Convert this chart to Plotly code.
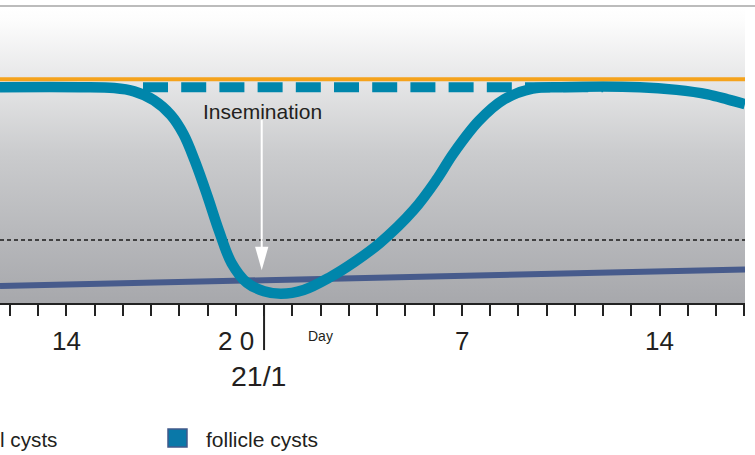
import plotly.graph_objects as go

# ---- data ----
x_range = [-9.345, 17.02]
tick_days = list(range(-9, 18))
label_days = [-7, -1, 7, 14]
label_text = ["14", "2 0", "7", "14"]

follicle_x = [-9.345, -6.5, -5.3, -4.6, -3.9, -3.3, -2.85, -2.45, -2.0, -1.6, -1.15, -0.6,
              0.0, 0.6, 1.4, 2.33, 3.2, 4.1, 5.3, 6.1, 6.7, 7.6, 8.5, 9.5, 10.5, 13.3,
              14.6, 15.7, 16.4, 17.02]
follicle_y = [72.9, 72.9, 72.6, 71.5, 68.5, 63.5, 57.0, 48.0, 36.0, 24.5, 13.5, 6.8,
              4.0, 3.1, 4.4, 8.7, 13.9, 20.3, 31.5, 41.6, 50.5, 61.5, 68.8, 72.4, 72.9, 72.9,
              72.0, 70.5, 68.8, 67.2]

luteal_x = [-9.345, 17.02]
luteal_y = [5.74, 11.3]

orange_level = 75.6
plateau_level = 72.9
dashed_start = -4.284
threshold_level = 21.3
insemination_day = -0.083

FONT = "Liberation Sans, Arial, sans-serif"
TXT = "#231f20"
TEAL = "#0086ab"

fig = go.Figure()

# gradient background
fig.add_trace(go.Scatter(
    x=[x_range[0], x_range[1], x_range[1], x_range[0], x_range[0]],
    y=[0, 0, 100, 100, 0], mode="lines", fill="toself",
    line=dict(width=0),
    fillgradient=dict(type="vertical", start=0, stop=100,
                      colorscale=[[0, "#a7a8ac"], [0.5, "#cacbcd"], [0.95, "#fcfcfc"], [1, "#ffffff"]]),
    hoverinfo="skip", showlegend=False))

# dotted threshold
fig.add_trace(go.Scatter(x=x_range, y=[threshold_level] * 2, mode="lines",
                         line=dict(color="#1a1a1a", width=1.6, dash="4px,3px"),
                         hoverinfo="skip", showlegend=False))

# luteal line
fig.add_trace(go.Scatter(x=luteal_x, y=luteal_y, mode="lines",
                         line=dict(color="#475b8c", width=6),
                         hoverinfo="skip", showlegend=False))

# dashed plateau
fig.add_trace(go.Scatter(x=[dashed_start, 12], y=[plateau_level] * 2, mode="lines",
                         line=dict(color=TEAL, width=10, dash="25px,13.2px"),
                         hoverinfo="skip", showlegend=False))

# follicle curve
fig.add_trace(go.Scatter(x=follicle_x, y=follicle_y, mode="lines",
                         line=dict(color=TEAL, width=10.5, shape="spline", smoothing=1.0),
                         hoverinfo="skip", showlegend=False))

# orange line
fig.add_trace(go.Scatter(x=x_range, y=[orange_level] * 2, mode="lines",
                         line=dict(color="#f5a31c", width=4),
                         hoverinfo="skip", showlegend=False))

shapes = [
    # top grey rule
    dict(type="line", xref="paper", yref="paper", x0=0, x1=1.02, y0=1.0034, y1=1.0034,
         line=dict(color="#a6a6a6", width=1.5)),
    # major tick at 21/1
    dict(type="line", xref="x", yref="paper", x0=0, x1=0, y0=0, y1=-0.159,
         line=dict(color="#222222", width=2)),
    # arrow shaft
    dict(type="line", xref="x", yref="y", x0=insemination_day, x1=insemination_day, y0=61.8, y1=18.0,
         line=dict(color="white", width=2), layer="above"),
    # arrow head
    dict(type="path", xref="x", yref="y",
         path=f"M {insemination_day-0.235},19.0 L {insemination_day+0.235},19.0 L {insemination_day},11.1 Z",
         fillcolor="white", line=dict(width=0), layer="above"),
    # legend square
    dict(type="rect", xref="paper", yref="paper", x0=0.2255, x1=0.251, y0=-0.4865, y1=-0.4257,
         fillcolor="#0a78a8", line=dict(color="#41598a", width=1.5)),
]

annotations = [
    dict(x=-0.05, y=0.6486, xref="x", yref="paper", text="Insemination", showarrow=False,
         font=dict(family=FONT, size=21, color=TXT), xanchor="center", yanchor="middle"),
    dict(x=-0.18, y=-0.2456, xref="x", yref="paper", text="21/1", showarrow=False,
         font=dict(family=FONT, size=28.5, color=TXT), xanchor="center", yanchor="middle"),
    dict(x=2, y=-0.11, xref="x", yref="paper", text="Day", showarrow=False,
         font=dict(family=FONT, size=14, color=TXT), xanchor="center", yanchor="middle"),
    dict(x=0.2735, y=-0.4628, xref="paper", yref="paper", text="follicle cysts", showarrow=False,
         font=dict(family=FONT, size=21, color=TXT), xanchor="left", yanchor="middle"),
    dict(x=0.0792, y=-0.4628, xref="paper", yref="paper", text="l cysts", showarrow=False,
         font=dict(family=FONT, size=20.7, color=TXT), xanchor="right", yanchor="middle"),
]
for d, t in zip(label_days, label_text):
    annotations.append(dict(x=d, y=-0.1267, xref="x", yref="paper", text=t, showarrow=False,
                            font=dict(family=FONT, size=26, color=TXT),
                            xanchor="center", yanchor="middle"))

fig.update_layout(
    width=755, height=455,
    margin=dict(l=0, r=10, t=7, b=152),
    paper_bgcolor="white", plot_bgcolor="white",
    showlegend=False,
    shapes=shapes, annotations=annotations,
    xaxis=dict(range=x_range, showgrid=False, zeroline=False, showline=True,
               linecolor="#222222", linewidth=2, ticks="outside", ticklen=11, tickwidth=2,
               tickcolor="#222222", tickvals=tick_days, showticklabels=False, fixedrange=True),
    yaxis=dict(range=[0, 100], visible=False, fixedrange=True),
)

fig.write_html("out.html", config={"displayModeBar": False},
               post_script="document.body.style.margin='0px';document.body.style.overflow='hidden';")
